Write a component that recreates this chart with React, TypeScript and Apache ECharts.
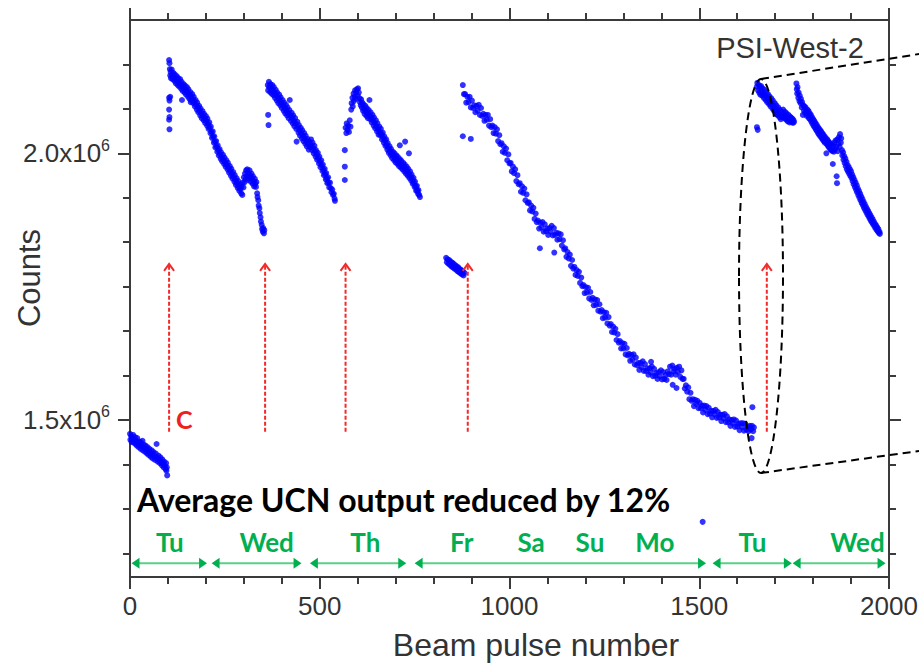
import React, { useEffect, useRef } from 'react';
import * as echarts from 'echarts';

// ---- data: [beam pulse number, counts (x10^6)] ----
const segTuesday1: number[][] = [
  [0,1.474],[1,1.463],[3,1.470],[4,1.459],[6,1.466],[8,1.472],[9,1.458],[11,1.463],[13,1.468],[14,1.455],[16,1.461],[18,1.452],
  [19,1.466],[21,1.457],[23,1.449],[24,1.460],[26,1.453],[28,1.446],[29,1.458],[31,1.451],[33,1.461],[34,1.443],[36,1.454],
  [38,1.447],[40,1.440],[41,1.452],[43,1.445],[45,1.437],[46,1.449],[48,1.441],[50,1.434],[51,1.446],[53,1.438],[55,1.431],
  [57,1.443],[58,1.436],[60,1.428],[62,1.440],[64,1.432],[66,1.425],[68,1.437],[70,1.455],[71,1.429],[73,1.422],[75,1.433],
  [77,1.425],[79,1.419],[80,1.430],[82,1.421],[84,1.415],[85,1.426],[87,1.418],[89,1.411],[90,1.422],[92,1.414],[94,1.408],
  [95,1.419],[96,1.405],[97,1.411],[98,1.396]
];
const segTuesday2: number[][] = [
  [103,2.175],[104,2.169],[103,2.104],[104,2.099],[103,2.082],[104,2.068],[103,2.063],[104,2.045],[106,2.106],
  [105,2.158],[106,2.146],[107,2.153],[108,2.141],[110,2.157],[111,2.147],[112,2.139],[114,2.151],[115,2.143],[117,2.136],
  [118,2.148],[120,2.140],[121,2.131],[123,2.145],[124,2.136],[126,2.128],[127,2.141],[129,2.133],[130,2.125],[132,2.139],
  [133,2.130],[135,2.121],[136,2.134],[137,2.100],[138,2.126],[139,2.117],[141,2.130],[142,2.122],[144,2.114],[145,2.127],
  [147,2.119],[148,2.110],[150,2.124],[151,2.115],[153,2.106],[154,2.120],[156,2.111],[157,2.102],[159,2.115],[160,2.096],
  [161,2.107],[162,2.099],[164,2.111],[165,2.102],[167,2.094],[168,2.106],[170,2.097],[171,2.088],[173,2.100],[174,2.091],
  [176,2.082],[177,2.095],[179,2.086],[180,2.077],[182,2.089],[183,2.080],[185,2.071],[186,2.084],[188,2.075],[189,2.066],
  [191,2.079],[192,2.070],[194,2.062],[195,2.074],[197,2.066],[198,2.057],[200,2.070],[201,2.061],[203,2.052],[204,2.065],
  [206,2.055],[207,2.046],[209,2.058],[210,2.048],[212,2.038],[213,2.050],[215,2.040],[216,2.029],[218,2.041],[219,2.031],
  [221,2.020],[222,2.032],[224,2.022],[225,2.011],[227,2.023],[228,2.013],[230,2.003],[231,2.015],[233,2.006],[234,1.996],
  [236,2.008],[237,1.999],[239,1.990],[240,2.002],[242,1.993],[243,1.985],[245,1.997],[246,1.988],[248,1.980],[249,1.992],
  [251,1.983],[252,1.975],[254,1.987],[255,1.978],[257,1.970],[258,1.982],[260,1.973],[261,1.964],[263,1.976],[264,1.967],
  [266,1.958],[267,1.971],[269,1.962],[270,1.953],[272,1.965],[273,1.956],[275,1.947],[276,1.959],[278,1.950],[279,1.941],
  [281,1.953],[282,1.944],[284,1.935],[285,1.948],[287,1.938],[288,1.930],[290,1.942],[291,1.933],[293,1.925],[294,1.937],
  [296,1.922],[297,1.945],[299,1.936],[300,1.955],[302,1.946],[303,1.962],[305,1.952],[306,1.968],[308,1.958],[309,1.970],
  [311,1.950],[312,1.963],[314,1.955],[315,1.968],[317,1.958],[318,1.947],[320,1.962],[321,1.953],[323,1.943],[324,1.957],
  [326,1.948],[327,1.938],[329,1.952],[330,1.943],[332,1.937],[333,1.946],[335,1.925],[336,1.918],[338,1.912],[339,1.902],
  [341,1.897],[342,1.888],[344,1.880],[345,1.872],[347,1.866],[348,1.858],[350,1.853],[351,1.860],[353,1.850],[354,1.856]
];
const segWednesday: number[][] = [
  [364,2.072],[365,2.053],[363,2.128],[364,2.118],[366,2.134],[367,2.124],[369,2.115],[370,2.130],[372,2.121],[373,2.112],
  [375,2.128],[376,2.118],[378,2.109],[379,2.124],[381,2.114],[382,2.104],[384,2.119],[385,2.109],[387,2.099],[388,2.114],
  [390,2.104],[391,2.094],[393,2.110],[394,2.100],[396,2.090],[397,2.105],[399,2.095],[400,2.085],[402,2.100],[403,2.090],
  [405,2.080],[406,2.095],[408,2.085],[409,2.075],[411,2.091],[412,2.081],[414,2.071],[415,2.086],[417,2.076],[418,2.066],
  [420,2.081],[421,2.100],[423,2.071],[424,2.061],[426,2.076],[427,2.066],[429,2.056],[430,2.071],[432,2.061],[433,2.051],
  [435,2.066],[436,2.056],[438,2.046],[439,2.022],[441,2.059],[442,2.049],[444,2.039],[445,2.053],[447,2.043],[448,2.033],
  [450,2.048],[451,2.038],[453,2.028],[454,2.043],[456,2.033],[457,2.023],[459,2.038],[460,2.028],[462,2.018],[463,2.033],
  [465,2.023],[466,2.013],[468,2.027],[469,2.017],[471,2.007],[472,2.022],[474,2.012],[475,2.012],[477,2.026],[478,2.016],
  [480,2.006],[481,2.020],[483,2.010],[484,2.000],[486,2.014],[487,2.004],[489,1.994],[490,2.006],[492,1.998],[493,1.988],
  [495,2.001],[496,1.991],[498,1.981],[499,1.994],[501,1.984],[502,1.974],[504,1.987],[505,1.977],[507,1.967],[508,1.979],
  [510,1.969],[511,1.959],[513,1.971],[514,1.961],[516,1.951],[517,1.963],[519,1.953],[520,1.944],[522,1.955],[523,1.945],
  [525,1.936],[527,1.945],[529,1.935],[531,1.927],[533,1.932],[535,1.922],[537,1.924],[539,1.915],[540,1.911]
];
const segThursday: number[][] = [
  [566,2.006],[566,1.975],[566,1.950],[568,2.048],[570,2.038],[571,2.056],[573,2.044],[575,2.052],[577,2.040],[579,2.062],
  [581,2.050],[583,2.082],[584,2.094],[586,2.104],[587,2.088],[589,2.112],[590,2.098],[592,2.106],[593,2.118],[595,2.102],
  [596,2.114],[598,2.120],[600,2.108],[601,2.122],[603,2.114],[605,2.103],[606,2.096],[608,2.090],[609,2.101],[611,2.086],
  [612,2.095],[614,2.080],[615,2.092],[617,2.083],[618,2.074],[620,2.089],[621,2.079],[623,2.070],[624,2.085],[626,2.075],
  [627,2.066],[629,2.081],[630,2.071],[631,2.100],[633,2.064],[634,2.077],[636,2.068],[637,2.058],[639,2.072],[640,2.062],
  [642,2.052],[643,2.067],[645,2.057],[646,2.047],[648,2.062],[649,2.051],[651,2.041],[652,2.056],[654,2.045],[655,2.035],
  [657,2.050],[658,2.040],[660,2.034],[661,2.046],[663,2.036],[664,2.026],[666,2.039],[667,2.029],[669,2.020],[670,2.032],
  [672,2.024],[673,2.014],[675,2.026],[676,2.016],[678,2.007],[679,2.019],[681,2.010],[682,2.001],[684,2.013],[685,2.004],
  [687,1.996],[688,2.008],[690,1.999],[691,1.991],[693,2.003],[694,1.995],[696,1.987],[697,2.000],[699,1.991],[700,1.983],
  [702,1.996],[703,1.987],[705,1.980],[706,1.993],[708,1.984],[709,1.976],[711,1.989],[711,2.015],[712,1.980],[714,1.973],
  [715,1.986],[717,1.977],[718,1.970],[720,1.982],[721,1.974],[723,1.966],[724,1.979],[725,2.022],[726,1.970],[727,1.962],
  [729,1.975],[730,1.966],[732,1.958],[733,1.971],[735,1.962],[735,2.000],[736,1.954],[738,1.966],[739,1.957],[741,1.949],
  [742,1.960],[744,1.951],[745,1.943],[747,1.954],[748,1.945],[750,1.937],[751,1.947],[753,1.938],[754,1.930],[756,1.939],
  [757,1.930],[759,1.924],[760,1.931],[762,1.922],[764,1.918]
];
const segFriday1: number[][] = [
  [833,1.804],[835,1.796],[837,1.801],[839,1.793],[841,1.800],[843,1.791],[845,1.797],[847,1.788],[849,1.795],[851,1.786],
  [853,1.793],[855,1.784],[857,1.790],[859,1.782],[861,1.788],[863,1.779],[865,1.786],[867,1.777],[869,1.783],[871,1.775],
  [873,1.781],[875,1.773],[877,1.779],[879,1.771],[881,1.776]
];
const segWeekend: number[][] = [
  [877,2.128],[877,2.032],[880,2.111],[883,2.111],[886,2.095],[889,2.106],[892,2.096],[895,2.106],[898,2.086],[898,2.027],
  [901,2.099],[904,2.085],[907,2.090],[910,2.077],[913,2.089],[916,2.080],[919,2.091],[922,2.072],[925,2.085],[928,2.070],
  [931,2.074],[934,2.061],[937,2.072],[940,2.063],[943,2.072],[946,2.052],[949,2.064],[952,2.049],[955,2.052],[958,2.038],
  [961,2.049],[964,2.037],[967,2.045],[970,2.023],[973,2.034],[976,2.017],[979,2.019],[982,2.003],[985,2.013],[988,2.001],
  [991,2.009],[994,1.987],[997,1.998],[1000,1.981],[1003,1.982],[1006,1.966],[1009,1.975],[1012,1.963],[1015,1.970],[1018,1.948],
  [1021,1.959],[1024,1.942],[1027,1.944],[1030,1.928],[1033,1.938],[1036,1.926],[1039,1.934],[1042,1.912],[1045,1.923],[1048,1.907],
  [1051,1.908],[1054,1.893],[1057,1.902],[1060,1.891],[1063,1.898],[1066,1.877],[1069,1.887],[1072,1.871],[1075,1.874],[1078,1.859],
  [1080,1.822],[1081,1.870],[1084,1.861],[1087,1.871],[1090,1.853],[1093,1.867],[1096,1.854],[1099,1.859],[1102,1.847],[1105,1.860],
  [1108,1.853],[1111,1.864],[1114,1.846],[1117,1.860],[1118,1.814],[1120,1.847],[1123,1.851],[1126,1.838],[1129,1.850],[1132,1.839],
  [1135,1.848],[1138,1.827],[1141,1.837],[1144,1.820],[1147,1.822],[1150,1.806],[1153,1.815],[1156,1.803],[1159,1.810],[1162,1.789],
  [1165,1.800],[1168,1.784],[1171,1.787],[1174,1.772],[1177,1.781],[1180,1.770],[1183,1.778],[1186,1.757],[1189,1.767],[1192,1.751],
  [1195,1.753],[1198,1.738],[1201,1.749],[1204,1.739],[1207,1.748],[1210,1.728],[1213,1.740],[1216,1.725],[1219,1.729],[1222,1.715],
  [1225,1.726],[1228,1.716],[1231,1.725],[1234,1.705],[1237,1.717],[1240,1.703],[1243,1.706],[1246,1.691],[1249,1.702],[1252,1.692],
  [1255,1.701],[1258,1.681],[1261,1.693],[1264,1.677],[1267,1.680],[1270,1.665],[1273,1.675],[1276,1.664],[1279,1.671],[1282,1.650],
  [1285,1.661],[1288,1.645],[1291,1.648],[1294,1.634],[1297,1.644],[1300,1.634],[1303,1.643],[1306,1.623],[1309,1.635],[1312,1.621],
  [1315,1.624],[1318,1.611],[1321,1.622],[1324,1.613],[1327,1.623],[1330,1.604],[1333,1.617],[1336,1.603],[1339,1.607],[1342,1.594],
  [1345,1.607],[1348,1.599],[1351,1.610],[1354,1.592],[1357,1.605],[1360,1.592],[1363,1.597],[1366,1.585],[1369,1.597],[1372,1.589],
  [1373,1.609],[1375,1.600],[1378,1.582],[1381,1.596],[1384,1.583],[1387,1.588],[1390,1.577],[1393,1.590],[1396,1.582],[1399,1.593],
  [1402,1.576],[1405,1.590],[1408,1.577],[1411,1.584],[1414,1.575],[1417,1.591],[1420,1.586],[1423,1.600],[1426,1.585],[1429,1.602],
  [1430,1.566],[1432,1.591],[1435,1.596],[1438,1.585],[1440,1.560],[1441,1.598],[1444,1.590],[1447,1.600],[1450,1.581],[1453,1.593],
  [1456,1.577],[1459,1.577],[1462,1.559],[1465,1.565],[1468,1.553],[1471,1.561],[1474,1.539],[1477,1.551],[1480,1.536],[1483,1.539],
  [1486,1.526],[1489,1.538],[1492,1.530],[1495,1.536],[1498,1.522],[1501,1.532],[1504,1.522],[1507,1.527],[1509,1.309],[1510,1.514],
  [1513,1.527],[1516,1.519],[1519,1.526],[1522,1.511],[1525,1.523],[1528,1.512],[1531,1.517],[1534,1.505],[1537,1.517],[1540,1.511],
  [1543,1.519],[1546,1.504],[1549,1.515],[1552,1.505],[1555,1.510],[1558,1.498],[1561,1.510],[1564,1.503],[1567,1.511],[1570,1.496],
  [1573,1.507],[1576,1.496],[1579,1.501],[1582,1.489],[1585,1.500],[1588,1.494],[1591,1.501],[1594,1.487],[1597,1.499],[1600,1.488],
  [1603,1.493],[1606,1.481],[1609,1.494],[1612,1.487],[1615,1.494],[1618,1.480],[1621,1.493],[1624,1.482],[1627,1.487],[1630,1.479],
  [1633,1.489],[1636,1.482],[1638,1.466],[1639,1.489],[1640,1.524],[1642,1.479],[1644,1.486]
];
const segTuesday3: number[][] = [
  [1652,2.125],[1652,2.049],[1653,2.132],[1654,2.044],[1655,2.118],[1657,2.128],[1658,2.114],[1660,2.124],[1661,2.110],[1663,2.126],
  [1664,2.116],[1666,2.108],[1667,2.122],[1669,2.112],[1670,2.104],[1672,2.119],[1673,2.108],[1675,2.100],[1676,2.115],[1678,2.104],
  [1679,2.096],[1681,2.111],[1682,2.100],[1684,2.092],[1685,2.107],[1687,2.096],[1688,2.088],[1690,2.103],[1691,2.092],[1693,2.084],
  [1694,2.099],[1696,2.088],[1697,2.080],[1699,2.094],[1700,2.084],[1702,2.076],[1703,2.090],[1704,2.073],[1705,2.080],[1706,2.072],
  [1708,2.086],[1709,2.076],[1711,2.068],[1712,2.082],[1714,2.072],[1715,2.064],[1717,2.078],[1718,2.068],[1720,2.069],[1721,2.082],
  [1723,2.073],[1724,2.066],[1726,2.078],[1727,2.069],[1729,2.063],[1730,2.075],[1732,2.066],[1733,2.060],[1735,2.072],[1736,2.064],
  [1738,2.058],[1739,2.069],[1741,2.061],[1742,2.067],[1744,2.059],[1745,2.065],[1747,2.057],[1748,2.063],[1750,2.059]
];
const segWednesday2: number[][] = [
  [1756,2.131],[1757,2.120],[1758,2.112],[1759,2.124],[1761,2.104],[1762,2.114],[1764,2.098],[1765,2.108],[1767,2.094],[1768,2.102],
  [1770,2.086],[1771,2.096],[1773,2.072],[1774,2.090],[1776,2.080],[1777,2.088],[1779,2.076],[1780,2.086],[1782,2.078],[1783,2.070],
  [1785,2.082],[1786,2.072],[1788,2.079],[1789,2.066],[1791,2.075],[1792,2.064],[1794,2.072],[1795,2.060],[1797,2.068],[1798,2.056],
  [1800,2.064],[1801,2.052],[1803,2.061],[1804,2.049],[1806,2.057],[1807,2.045],[1809,2.054],[1810,2.042],[1812,2.050],[1813,2.038],
  [1815,2.047],[1816,2.035],[1818,2.044],[1819,2.032],[1821,2.041],[1822,2.029],[1824,2.038],[1825,2.026],[1827,2.035],[1828,2.023],
  [1830,2.032],[1831,2.020],[1833,2.029],[1835,2.000],[1836,2.017],[1837,2.026],[1839,2.014],[1840,2.023],[1842,2.011],[1843,2.020],
  [1845,2.008],[1846,2.018],[1848,2.006],[1849,2.016],[1851,2.004],[1852,1.980],[1853,2.014],[1855,2.003],[1856,2.020],[1858,2.008],
  [1859,2.024],[1861,2.012],[1862,1.957],[1863,1.944],[1864,2.026],[1865,2.004],[1867,2.018],[1868,2.030],[1870,2.012],[1871,2.036],
  [1873,2.020],[1874,2.028],[1876,2.006],[1877,1.996],[1879,2.002],[1880,1.988],[1882,1.995],[1883,1.982],[1885,1.990],[1886,1.976],
  [1888,1.984],[1889,1.970],[1891,1.978],[1892,1.966],[1894,1.974],[1895,1.962],[1897,1.970],[1898,1.958],[1900,1.966],[1901,1.954],
  [1903,1.960],[1904,1.948],[1906,1.955],[1907,1.942],[1909,1.950],[1910,1.937],[1912,1.945],[1913,1.932],[1915,1.940],[1916,1.927],
  [1918,1.934],[1919,1.922],[1921,1.929],[1922,1.917],[1924,1.924],[1925,1.912],[1927,1.919],[1928,1.907],[1930,1.914],[1931,1.903],
  [1933,1.909],[1934,1.898],[1936,1.905],[1937,1.894],[1939,1.900],[1940,1.890],[1942,1.896],[1943,1.886],[1945,1.892],[1946,1.882],
  [1948,1.888],[1949,1.878],[1951,1.884],[1952,1.874],[1954,1.880],[1955,1.871],[1957,1.876],[1958,1.867],[1960,1.872],[1961,1.864],
  [1963,1.868],[1964,1.860],[1966,1.865],[1967,1.857],[1969,1.861],[1970,1.854],[1972,1.858],[1973,1.851],[1975,1.853],[1976,1.849]
];

// ---- axis ticks ----
const xMajorTicks = [0, 500, 1000, 1500, 2000];
const xMinorTicks = [100, 200, 300, 400, 600, 700, 800, 900, 1100, 1200, 1300, 1400, 1600, 1700, 1800, 1900];
const yMajorTicks = [1.5, 2.0];
const yMinorTicks = [1.25, 1.33333, 1.41667, 1.58333, 1.66667, 1.75, 1.83333, 1.91667, 2.08333, 2.16667];

// ---- annotations (data space) ----
const refillPulses = [103, 356, 568, 890, 1678];
const refillArrowFrom = 1.478;
const refillArrowTo = 1.787;
const dayNames = ['Tu', 'Wed', 'Th', 'Fr', 'Sa', 'Su', 'Mo', 'Tu', 'Wed'];
const dayCenters = [105, 360, 620, 874, 1057, 1212, 1383, 1640, 1917];
const daySpans = [[4, 203], [215, 452], [474, 728], [750, 1518], [1535, 1744], [1746, 1991]];
const dayLabelLevel = 1.2718;
const dayArrowLevel = 1.2313;
const cLabelPos = [143, 1.502];

const FONT = '"Liberation Sans", Arial, sans-serif';
const CAL = 'Lato, "Open Sans", sans-serif';
const AXC = '#3b3b3b';
const TXT = '#333333';

export default function App() {
  const ref = useRef<HTMLDivElement>(null);
  useEffect(() => {
    if (!ref.current) return;
    const chart = echarts.init(ref.current, null, { renderer: 'svg' });
    const grid = { left: 130, right: 30, top: 20, bottom: 87, containLabel: false, outerBoundsMode: 'none' };
    const tickStyle = { color: AXC, width: 2 };
    const xAx = (gi: number, pos: string, vals: number[], len: number, line: boolean) => ({
      gridIndex: gi, type: 'value', position: pos, min: 0, max: 2000,
      axisLine: { show: line, onZero: false, lineStyle: { color: AXC, width: 2 } },
      axisTick: { show: true, customValues: vals, length: len, lineStyle: tickStyle },
      axisLabel: { show: false },
      splitLine: { show: false },
    });
    const yAx = (gi: number, pos: string, vals: number[], len: number, line: boolean) => ({
      gridIndex: gi, type: 'value', position: pos, min: 1.2056, max: 2.25,
      axisLine: { show: line, onZero: false, lineStyle: { color: AXC, width: 2 } },
      axisTick: { show: true, customValues: vals, length: len, lineStyle: tickStyle },
      axisLabel: { show: false },
      splitLine: { show: false },
    });
    const xMain: any = xAx(0, 'bottom', xMajorTicks, 12, true);
    xMain.axisLabel = {
      show: true, customValues: xMajorTicks, margin: 16, fontSize: 26, color: TXT, fontFamily: FONT,
      formatter: (v: number) => String(v),
    };
    xMain.name = 'Beam pulse number';
    xMain.nameLocation = 'middle';
    xMain.nameGap = 52;
    xMain.nameTextStyle = { fontSize: 32, color: TXT, fontFamily: FONT, padding: [0, 0, 0, 53] };
    const yMain: any = yAx(0, 'left', yMajorTicks, 12, true);
    yMain.axisLabel = {
      show: true, customValues: yMajorTicks, margin: 20,
      formatter: (v: number) => `{m|${v.toFixed(1)}x10}{e|6}`,
      rich: {
        m: { fontSize: 26, color: TXT, fontFamily: FONT, lineHeight: 32 },
        e: { fontSize: 16, color: TXT, fontFamily: FONT, lineHeight: 18, verticalAlign: 'top' },
      },
    };

    const segments = [segTuesday1, segTuesday2, segWednesday, segThursday, segFriday1, segWeekend, segTuesday3, segWednesday2];
    chart.setOption({
      animation: false,
      grid: [grid, grid],
      xAxis: [xMain, xAx(0, 'top', xMajorTicks, 12, true), xAx(1, 'bottom', xMinorTicks, 7, false), xAx(1, 'top', xMinorTicks, 7, false)],
      yAxis: [yMain, yAx(0, 'right', yMajorTicks, 12, true), yAx(1, 'left', yMinorTicks, 7, false), yAx(1, 'right', yMinorTicks, 7, false)],
      series: segments.map((seg) => ({
        type: 'scatter', xAxisIndex: 0, yAxisIndex: 0, data: seg,
        symbol: 'circle', symbolSize: 6, itemStyle: { color: '#0000ff' }, silent: true,
      })),
    });

    const toPx = (x: number, y: number) => chart.convertToPixel({ xAxisIndex: 0, yAxisIndex: 0 }, [x, y]) as number[];
    const g: any[] = [];
    // y axis title
    g.push({ type: 'text', x: 29, y: 278, rotation: Math.PI / 2, style: { text: 'Counts', fill: TXT, font: `31px ${FONT}`, textAlign: 'center', textVerticalAlign: 'middle' }, z: 10 });
    // red refill arrows
    refillPulses.forEach((p) => {
      const a = toPx(p, refillArrowFrom);
      const b = toPx(p, refillArrowTo);
      g.push({ type: 'line', shape: { x1: a[0], y1: a[1], x2: b[0], y2: b[1] - 3 }, style: { stroke: '#f22a2a', lineWidth: 2, lineDash: [4, 2] }, z: 10 });
      g.push({ type: 'polyline', shape: { points: [[b[0] - 5, b[1] + 4], [b[0], b[1] - 3], [b[0] + 5, b[1] + 4]] }, style: { stroke: '#f22a2a', lineWidth: 2, fill: 'none' }, z: 10 });
    });
    const cp = toPx(cLabelPos[0], cLabelPos[1]);
    g.push({ type: 'text', x: cp[0], y: cp[1], style: { text: 'C', fill: '#f02020', font: `bold 25px ${CAL}`, textAlign: 'center', textVerticalAlign: 'middle' }, z: 10 });
    // day arrows
    daySpans.forEach(([s, e]) => {
      const a = toPx(s, dayArrowLevel);
      const b = toPx(e, dayArrowLevel);
      const y = a[1];
      g.push({ type: 'line', shape: { x1: a[0] + 4, y1: y, x2: b[0] - 4, y2: y }, style: { stroke: '#5ccf86', lineWidth: 2 }, z: 10 });
      g.push({ type: 'polygon', shape: { points: [[a[0], y], [a[0] + 8, y - 5.5], [a[0] + 8, y + 5.5]] }, style: { fill: '#00b050' }, z: 10 });
      g.push({ type: 'polygon', shape: { points: [[b[0], y], [b[0] - 8, y - 5.5], [b[0] - 8, y + 5.5]] }, style: { fill: '#00b050' }, z: 10 });
    });
    dayNames.forEach((n, i) => {
      const p = toPx(dayCenters[i], dayLabelLevel);
      g.push({ type: 'text', x: p[0], y: p[1], style: { text: n, fill: '#00b050', font: `bold 26px ${CAL}`, textAlign: 'center', textVerticalAlign: 'middle' }, z: 10 });
    });
    // texts
    g.push({ type: 'text', x: 790, y: 48, style: { text: 'PSI-West-2', fill: TXT, font: `29px ${FONT}`, textAlign: 'center', textVerticalAlign: 'middle' }, z: 10 });
    g.push({ type: 'text', x: 137, y: 499, style: { text: 'Average UCN output reduced by 12%', fill: '#000', font: `bold 32px ${CAL}`, textAlign: 'left', textVerticalAlign: 'middle' }, z: 10 });
    // zoom callout
    const dash = { stroke: '#000', lineWidth: 2, lineDash: [8, 5], fill: 'none' };
    g.push({ type: 'ellipse', shape: { cx: 761, cy: 276, rx: 22, ry: 197 }, style: dash, z: 11 });
    g.push({ type: 'line', shape: { x1: 761, y1: 79, x2: 919, y2: 54 }, style: dash, z: 11 });
    g.push({ type: 'line', shape: { x1: 761, y1: 473, x2: 919, y2: 451 }, style: dash, z: 11 });
    chart.setOption({ graphic: g });

    return () => chart.dispose();
  }, []);
  return <div ref={ref} style={{ position: 'absolute', left: 0, top: 0, width: 919, height: 664 }} />;
}
